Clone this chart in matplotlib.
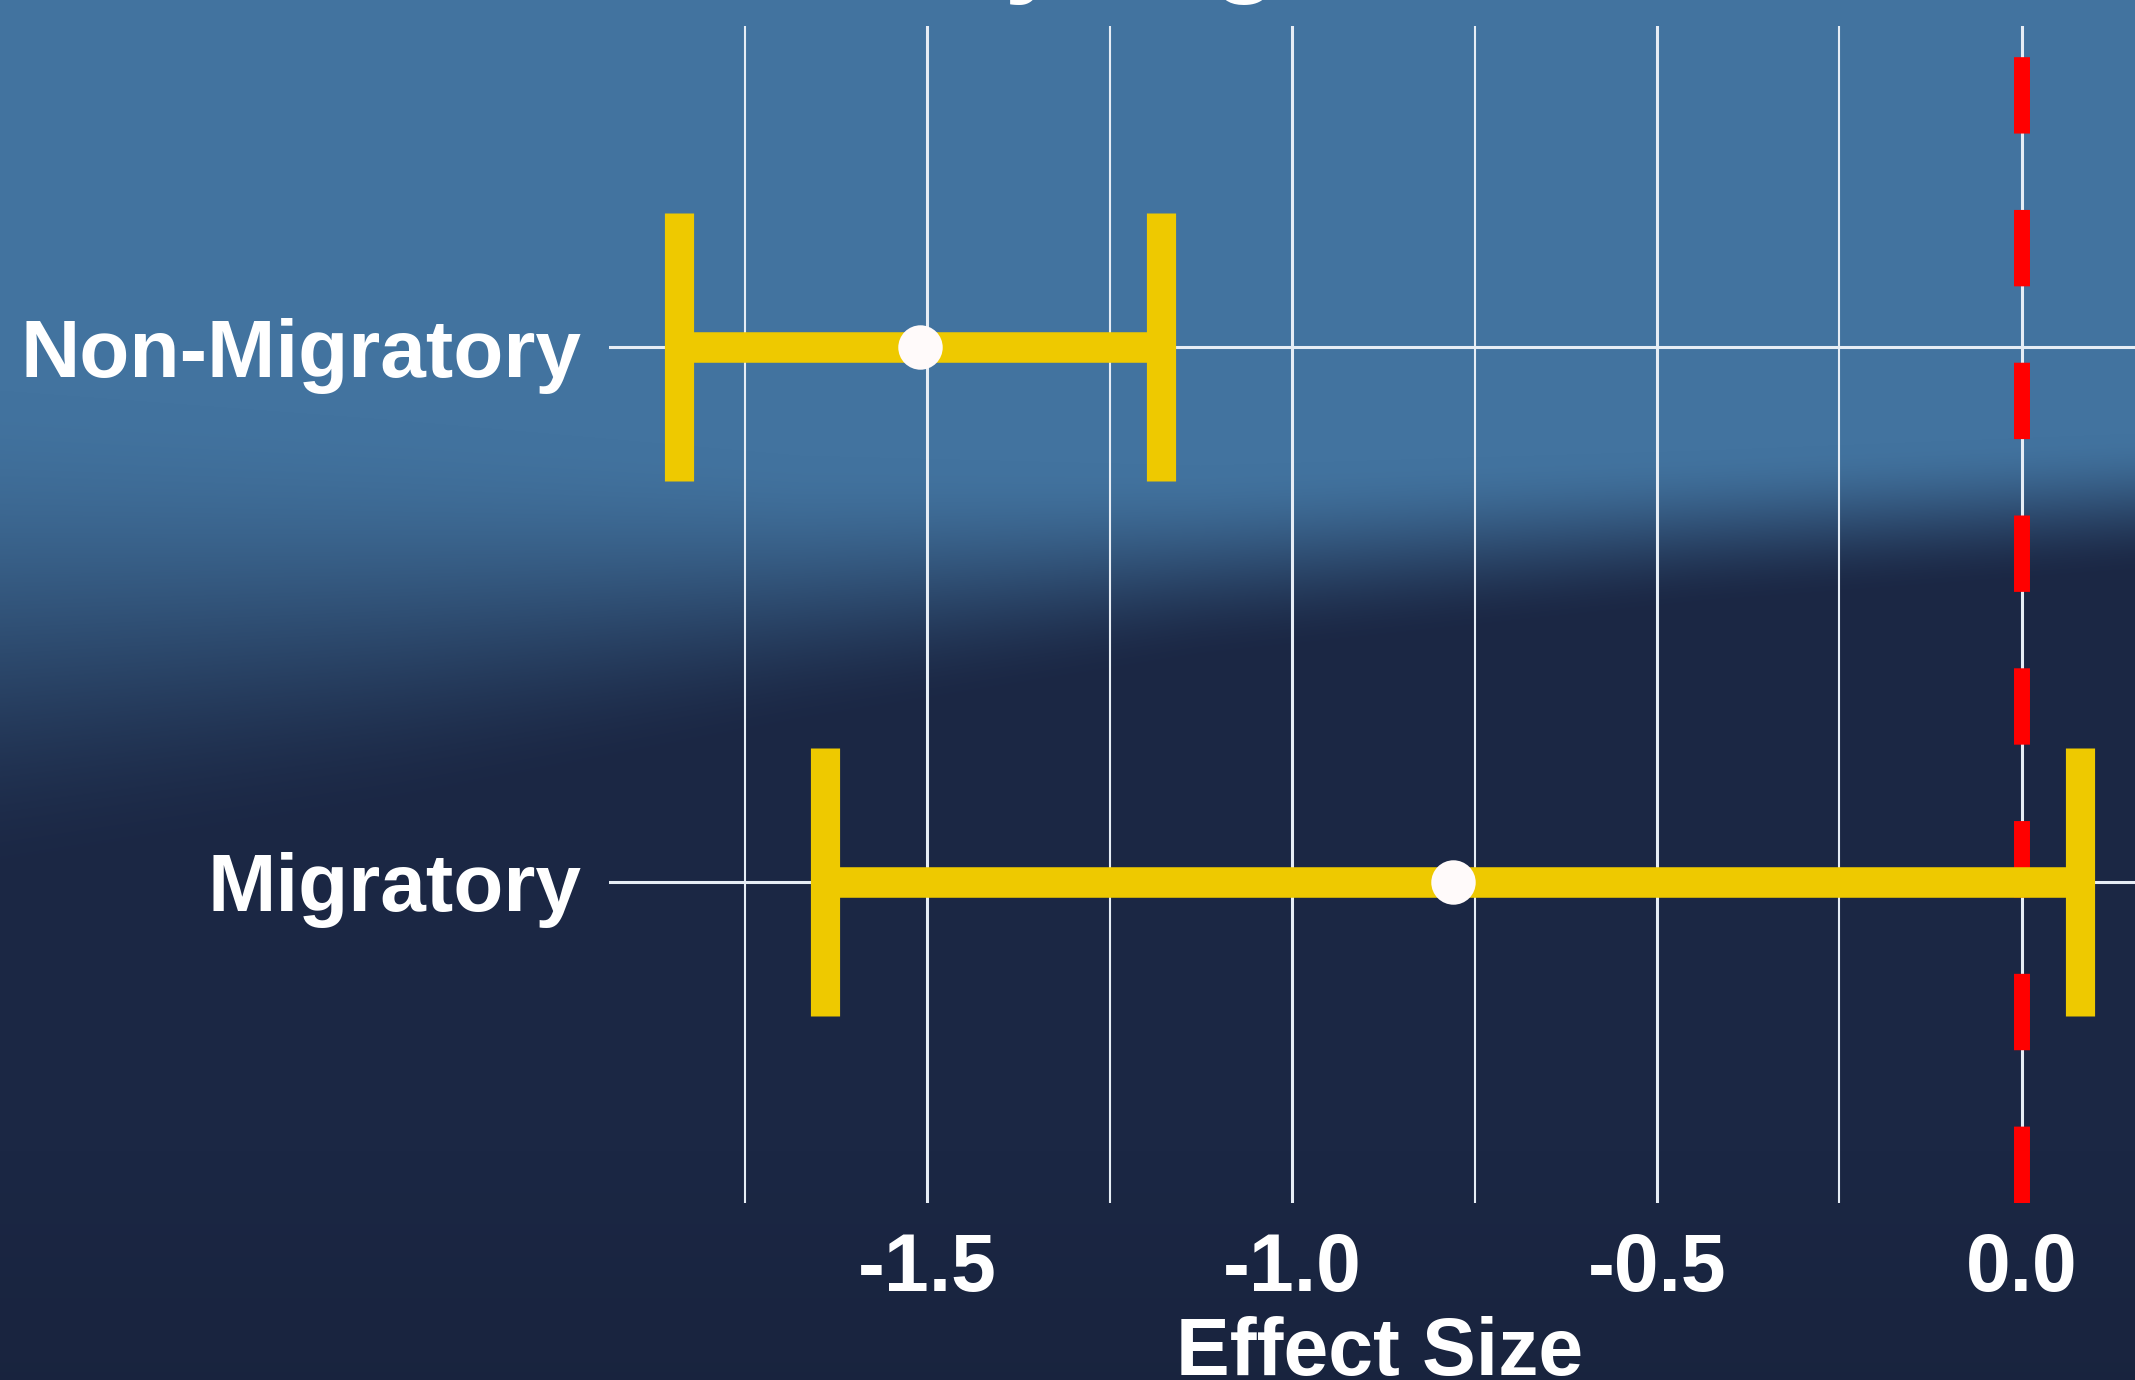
import numpy as np
import matplotlib
matplotlib.use("Agg")
import matplotlib.pyplot as plt

plt.rcParams['font.family'] = ['Liberation Sans', 'DejaVu Sans']
plt.rcParams['lines.scale_dashes'] = False

# ---------------- data ----------------
categories = ["Migratory", "Non-Migratory"]
estimate = [-0.78, -1.51]
ci_lower = [-1.64, -1.84]
ci_upper = [0.08, -1.18]
x_ticks = [-1.5, -1.0, -0.5, 0.0]
x_tick_labels = ["-1.5", "-1.0", "-0.5", "0.0"]
x_minor_ticks = [-1.75, -1.25, -0.75, -0.25]
reference_x = 0.0
title_text = "Effect Size by Migration Status"
x_label = "Effect Size"

W, H, DPI = 2135, 1380, 100
fig = plt.figure(figsize=(W / DPI, H / DPI), dpi=DPI)

# ---------------- background gradient ----------------
top_col = np.array([66, 115, 159]) / 255.0
bot_col = np.array([27, 39, 68]) / 255.0
yy, xx = np.mgrid[0:H, 0:W].astype(float)
xs = [0, 400, 800, 1200, 1700, 2135]
yc = np.interp(xx, xs, [640, 620, 595, 565, 530, 505])
hw = np.interp(xx, xs, [250, 200, 140, 100, 80, 72])
t = np.clip((yy - (yc - hw)) / (2 * hw), 0, 1)
t = t * t * (3 - 2 * t)
img = top_col[None, None, :] * (1 - t[..., None]) + bot_col[None, None, :] * t[..., None]
dark = np.clip((yy - 1150) / 230, 0, 1)[..., None] * 0.08
img = img * (1 - dark)
bg = fig.add_axes([0, 0, 1, 1], zorder=0)
bg.imshow(img, extent=[0, W, H, 0], aspect='auto', interpolation='bilinear')
bg.set_axis_off()

# ---------------- main axes ----------------
lo, hi = min(ci_lower), max(ci_upper)
pad = 0.05 * (hi - lo)
xlim = (lo - pad, hi + pad)
px_per_unit = 729.8
left_px, top_px, bottom_px = 609, 26, 1203
ax = fig.add_axes([left_px / W, (H - bottom_px) / H,
                   (xlim[1] - xlim[0]) * px_per_unit / W, (bottom_px - top_px) / H], zorder=1)
ax.patch.set_alpha(0)
ax.set_xlim(*xlim)
ax.set_ylim(0.4, 2.6)

ypos = np.arange(1, len(categories) + 1)
ax.set_yticks(ypos)
ax.set_yticklabels(categories)
ax.set_xticks(x_ticks)
ax.set_xticklabels(x_tick_labels)
ax.set_xticks(x_minor_ticks, minor=True)

grid_col = '#E6EDF5'
ax.grid(which='major', axis='both', color=grid_col, lw=2.2, zorder=0)
ax.grid(which='minor', axis='x', color=grid_col, lw=1.5, zorder=0)
ax.set_axisbelow(True)
for s in ax.spines.values():
    s.set_visible(False)
ax.tick_params(which='both', length=0)
ax.tick_params(axis='x', pad=21, labelsize=58, labelcolor='white')
ax.tick_params(axis='y', pad=20, labelsize=59, labelcolor='white')
for lab in ax.get_xticklabels() + ax.get_yticklabels():
    lab.set_fontweight('bold')

# reference line
ax.axvline(reference_x, color='#FF0000', lw=11.5, linestyle=(0, (55, 55)),
           solid_capstyle='butt', dash_capstyle='butt', zorder=2)

# error bars
bar_col = '#EEC900'
cap_h = 0.25
for y, e, l, u in zip(ypos, estimate, ci_lower, ci_upper):
    ax.plot([l, u], [y, y], color=bar_col, lw=22, solid_capstyle='butt', zorder=3)
    for xc in (l, u):
        ax.plot([xc, xc], [y - cap_h, y + cap_h], color=bar_col, lw=21,
                solid_capstyle='butt', zorder=3)
ax.plot(estimate, ypos, 'o', color='#FFFAFA', ms=32, mec='none', zorder=4)

ax.set_xlabel(x_label, fontsize=58, fontweight='bold', color='white', labelpad=6)

fig.text(369 / W, 1 + 17 / H, title_text, fontsize=77, fontweight='bold',
         color='white', ha='left', va='baseline')

fig.savefig('out.png', dpi=DPI)
